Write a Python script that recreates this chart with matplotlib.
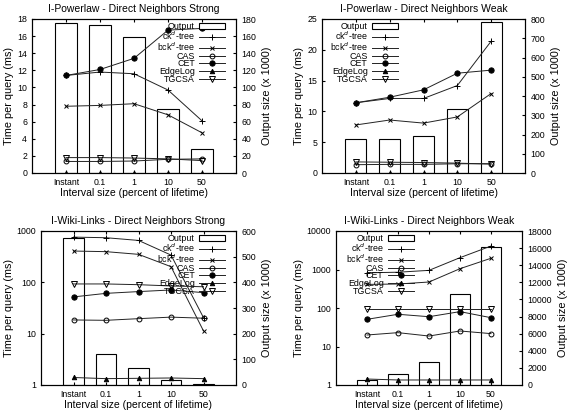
import numpy as np
import matplotlib
matplotlib.use('Agg')
import matplotlib.pyplot as plt
from matplotlib.ticker import FixedLocator, FuncFormatter, NullLocator

plt.rcParams['font.family'] = ['Liberation Sans', 'DejaVu Sans']

intervals = ['Instant', '0.1', '1', '10', '50']
methods = ['ck$^d$-tree', 'bck$^d$-tree', 'CAS', 'CET', 'EdgeLog', 'TGCSA']

# I-Powerlaw - Direct Neighbors Strong
pl_strong_output = [175, 173, 159, 75, 28]
pl_strong_ckd = [11.4, 11.8, 11.6, 9.7, 6.1]
pl_strong_bckd = [7.8, 7.9, 8.1, 6.8, 4.7]
pl_strong_cas = [1.35, 1.35, 1.4, 1.6, 1.65]
pl_strong_cet = [11.4, 12.1, 13.4, 16.7, 16.9]
pl_strong_edgelog = [0.03, 0.03, 0.03, 0.03, 0.03]
pl_strong_tgcsa = [1.8, 1.8, 1.75, 1.65, 1.45]

# I-Powerlaw - Direct Neighbors Weak
pl_weak_output = [176, 179, 192, 333, 787]
pl_weak_ckd = [11.4, 12.1, 12.1, 14.2, 21.4]
pl_weak_bckd = [7.8, 8.6, 8.1, 9.1, 12.9]
pl_weak_cas = [1.35, 1.4, 1.4, 1.5, 1.5]
pl_weak_cet = [11.4, 12.3, 13.5, 16.2, 16.7]
pl_weak_edgelog = [0.03, 0.03, 0.03, 0.03, 0.03]
pl_weak_tgcsa = [1.8, 1.75, 1.7, 1.6, 1.45]

# I-Wiki-Links - Direct Neighbors Strong
wl_strong_output = [571, 120, 65, 19, 3]
wl_strong_ckd = [760, 740, 655, 340, 20.5]
wl_strong_bckd = [407, 396, 351, 202, 11.3]
wl_strong_cas = [18.5, 18.2, 19.6, 21, 20]
wl_strong_cet = [52, 61, 66, 71, 63]
wl_strong_edgelog = [1.4, 1.33, 1.35, 1.37, 1.33]
wl_strong_tgcsa = [93, 93, 90, 85, 82]

# I-Wiki-Links - Direct Neighbors Weak
wl_weak_output = [600, 1250, 2730, 10600, 16170]
wl_weak_ckd = [820, 850, 950, 2030, 4070]
wl_weak_bckd = [410, 420, 473, 1050, 1960]
wl_weak_cas = [19.9, 22.9, 18.7, 25.3, 21.6]
wl_weak_cet = [50.8, 68.7, 59.4, 80.5, 56]
wl_weak_edgelog = [1.43, 1.35, 1.35, 1.35, 1.35]
wl_weak_tgcsa = [92, 92, 92, 92, 92]

styles = [
    dict(marker='+', mfc='none', ms=4.5),
    dict(marker='x', mfc='none', ms=3.5),
    dict(marker='o', mfc='none', ms=3.5),
    dict(marker='o', mfc='black', ms=3.8),
    dict(marker='^', mfc='black', ms=3.2),
    dict(marker='v', mfc='none', ms=3.8),
]
line_col = '#222222'


def draw_panel(rect, title, output, series, ylim, yticks, y2lim, y2ticks,
               log=False, leg_x=0.95):
    ax = fig.add_axes(rect)
    ax2 = ax.twinx()
    ax.set_zorder(2)
    ax2.set_zorder(1)
    ax.patch.set_visible(False)

    x = np.arange(len(intervals))
    bars = ax2.bar(x, output, width=0.62, facecolor='white', edgecolor='black',
                   linewidth=0.8, label='Output')
    handles = [bars]
    for name, vals, st in zip(methods, series, styles):
        h, = ax.plot(x, vals, color=line_col, lw=0.7, mec='black', mew=0.7,
                     label=name, **st)
        handles.append(h)

    if log:
        ax.set_yscale('log')
        ax.yaxis.set_minor_locator(NullLocator())
    ax.set_ylim(*ylim)
    ax.yaxis.set_major_locator(FixedLocator(yticks))
    ax.yaxis.set_major_formatter(FuncFormatter(lambda v, p: '%g' % v))
    ax2.set_ylim(*y2lim)
    ax2.set_yticks(y2ticks)
    ax.set_xlim(-1, 5)
    ax.set_xticks(x)
    ax.set_xticklabels(intervals)

    ax.tick_params(axis='x', direction='in', top=True, length=2.5,
                   labelsize=6.3, pad=3.5)
    ax.tick_params(axis='y', direction='in', length=2.5, labelsize=6.3, pad=3.5)
    ax2.tick_params(axis='y', direction='in', length=2.5, labelsize=6.3, pad=4)
    for a in (ax, ax2):
        for s in a.spines.values():
            s.set_linewidth(0.8)

    ax.set_title(title, fontsize=7.5, pad=5)
    ax.set_xlabel('Interval size (percent of lifetime)', fontsize=7.5, labelpad=1)
    ax.set_ylabel('Time per query (ms)', fontsize=7.8, labelpad=2)
    ax2.set_ylabel('Output size (x 1000)', fontsize=7.8, labelpad=4)

    ax.legend(handles=handles, loc='upper right', bbox_to_anchor=(leg_x, 0.978),
              frameon=False, markerfirst=False, fontsize=6.4, labelspacing=-0.16,
              handlelength=2.9, handletextpad=0.5, borderpad=0, borderaxespad=0)
    return ax


fig = plt.figure(figsize=(5.68, 4.12), dpi=100)
W, H = 568.0, 412.0


def rect(l, r, t, b):
    return [l / W, 1 - b / H, (r - l) / W, (b - t) / H]


draw_panel(rect(32, 236, 19, 173), 'I-Powerlaw - Direct Neighbors Strong',
           pl_strong_output,
           [pl_strong_ckd, pl_strong_bckd, pl_strong_cas, pl_strong_cet,
            pl_strong_edgelog, pl_strong_tgcsa],
           (0, 18), range(0, 19, 2), (0, 180), range(0, 181, 20), leg_x=0.946)

draw_panel(rect(322, 525, 19, 173), 'I-Powerlaw - Direct Neighbors Weak',
           pl_weak_output,
           [pl_weak_ckd, pl_weak_bckd, pl_weak_cas, pl_weak_cet,
            pl_weak_edgelog, pl_weak_tgcsa],
           (0, 25), range(0, 26, 5), (0, 800), range(0, 801, 100), leg_x=0.374)

draw_panel(rect(41, 236, 231, 385), 'I-Wiki-Links - Direct Neighbors Strong',
           wl_strong_output,
           [wl_strong_ckd, wl_strong_bckd, wl_strong_cas, wl_strong_cet,
            wl_strong_edgelog, wl_strong_tgcsa],
           (1, 1000), [1, 10, 100, 1000], (0, 600), range(0, 601, 100),
           log=True, leg_x=0.944)

draw_panel(rect(336, 522, 231, 385), 'I-Wiki-Links - Direct Neighbors Weak',
           wl_weak_output,
           [wl_weak_ckd, wl_weak_bckd, wl_weak_cas, wl_weak_cet,
            wl_weak_edgelog, wl_weak_tgcsa],
           (1, 10000), [1, 10, 100, 1000, 10000], (0, 18000),
           range(0, 18001, 2000), log=True, leg_x=0.419)

fig.savefig('out.png', dpi=100)
